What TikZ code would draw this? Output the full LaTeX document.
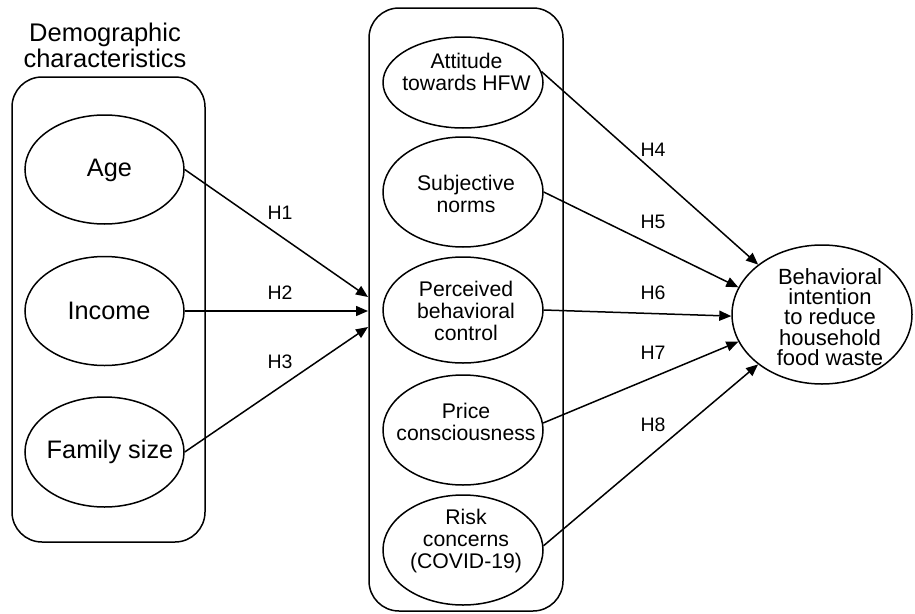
\documentclass[tikz,border=0pt]{standalone}
\usepackage{fontspec}
\setmainfont{Liberation Sans}
\usetikzlibrary{shapes.geometric,arrows.meta}
\begin{document}
\begin{tikzpicture}[x=1pt,y=-1pt,
  oval/.style={ellipse,draw,line width=1.5pt,inner sep=0pt},
  grp/.style={draw,rounded corners=30pt,line width=1.5pt},
  arr/.style={line width=1.5pt,-{Triangle[length=12pt,width=10pt]}},
  hl/.style={font=\fontsize{19.5}{22}\selectfont,inner sep=0pt},
  bigtxt/.style={font=\fontsize{25.3}{28}\selectfont,inner sep=0pt,align=center},
  midtxt/.style={font=\fontsize{21.2}{21.8}\selectfont,inner sep=0pt,align=center},
  rtxt/.style={font=\fontsize{22}{20.3}\selectfont,inner sep=0pt,align=center}]
\useasboundingbox (0,0) rectangle (915,613);
\fill[white] (0,0) rectangle (915,613);

% left group
\draw[grp] (12,77) rectangle (205,542);
\node[font=\fontsize{25.5}{26}\selectfont,inner sep=0pt,align=center] (title) at (105,45) {Demographic\\characteristics};
\node[oval,minimum width=159pt,minimum height=109pt] (age) at (104.5,169.5) {};
\node[oval,minimum width=159pt,minimum height=109pt] (inc) at (104.5,311) {};
\node[oval,minimum width=159pt,minimum height=110pt] (fam) at (104.5,452) {};
\node[bigtxt] (tage) at (109.5,170) {Age};
\node[bigtxt] (tinc) at (109,311) {Income};
\node[bigtxt] (tfam) at (110,452) {Family size};

% middle group
\draw[grp] (369,8) rectangle (563,611);
\coordinate (in1) at (368,297);
\coordinate (in2) at (368,311);
\coordinate (in3) at (368,327);
\node[oval,minimum width=160pt,minimum height=91pt] (att) at (463,82.5) {};
\node[oval,minimum width=160pt,minimum height=110pt] (sub) at (463,192) {};
\node[oval,minimum width=160pt,minimum height=106pt] (pbc) at (463,310) {};
\node[oval,minimum width=160pt,minimum height=110pt] (pc) at (463,430) {};
\node[oval,minimum width=160pt,minimum height=110pt] (rc) at (463,550) {};
\node[midtxt] (tatt) at (466.5,72) {Attitude\\towards HFW};
\node[midtxt] (tsub) at (466,194) {Subjective\\norms};
\node[midtxt] (tpbc) at (466,311) {Perceived\\behavioral\\control};
\node[midtxt] (tpc) at (466,422) {Price\\consciousness};
\node[midtxt] (trc) at (466,541) {Risk\\concerns\\(COVID-19)};

% outcome
\node[oval,minimum width=180pt,minimum height=139pt] (bi) at (822,314.5) {};
\node[rtxt] (tbi) at (830,317) {Behavioral\\intention\\to reduce\\household\\food waste};

% arrows left -> middle
\draw[arr] (age.east) -- (in1);
\draw[arr] (inc.east) -- (in2);
\draw[arr] (fam.east) -- (in3);
\node[hl] (h1) at (280,213) {H1};
\node[hl] (h2) at (280,293) {H2};
\node[hl] (h3) at (280,362) {H3};

% arrows middle -> outcome
\draw[arr] (att.8) -- (bi.142.5);
\draw[arr] (sub.east) -- (bi.162.5);
\draw[arr] (pbc.east) -- (bi.181);
\draw[arr] (pc.5) -- (bi.198);
\draw[arr] (rc.3) -- (bi.218);
\node[hl] (h4) at (653,150) {H4};
\node[hl] (h5) at (653,222) {H5};
\node[hl] (h6) at (653,293) {H6};
\node[hl] (h7) at (653,353) {H7};
\node[hl] (h8) at (653,425) {H8};
\end{tikzpicture}
\end{document}
